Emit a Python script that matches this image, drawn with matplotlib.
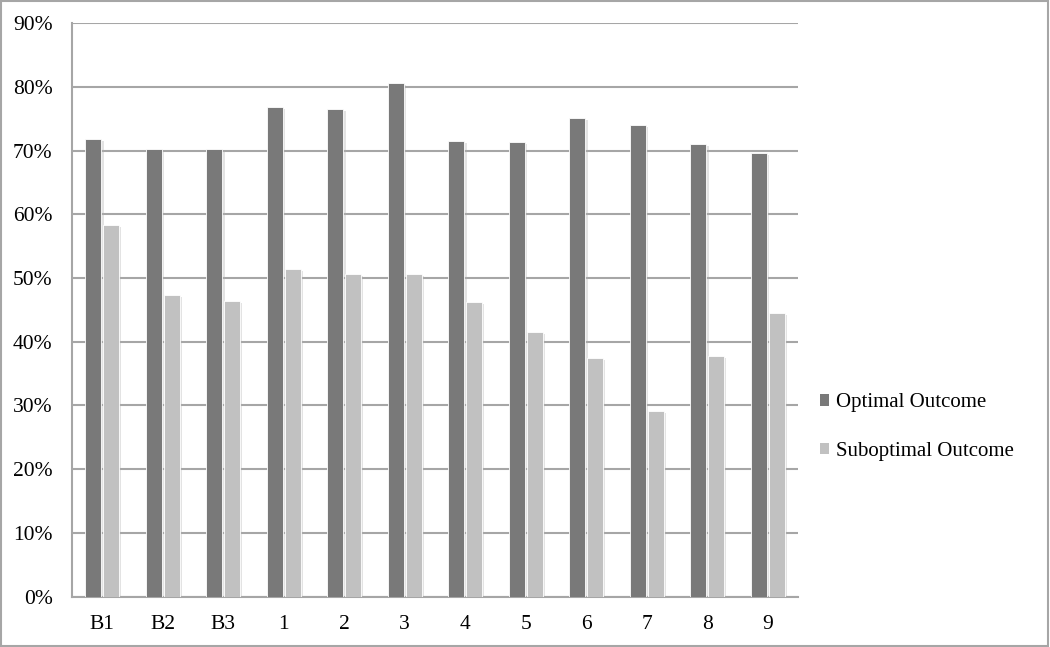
import matplotlib
matplotlib.use("Agg")
import matplotlib.pyplot as plt
import numpy as np
from matplotlib.patches import Rectangle, Patch
import matplotlib.patheffects as pe

categories = ["B1", "B2", "B3", "1", "2", "3", "4", "5", "6", "7", "8", "9"]
optimal = [71.8, 70.2, 70.2, 76.8, 76.5, 80.6, 71.5, 71.3, 75.1, 74.0, 71.1, 69.7]
suboptimal = [58.4, 47.4, 46.4, 51.4, 50.6, 50.6, 46.2, 41.5, 37.4, 29.2, 37.8, 44.5]
yticks = [0, 10, 20, 30, 40, 50, 60, 70, 80, 90]
series_names = ["Optimal Outcome", "Suboptimal Outcome"]

dark = "#797979"
light = "#c1c1c1"
grid_c = "#a6a6a6"
font = "Liberation Serif"

fig = plt.figure(figsize=(10.5, 6.47), dpi=100)
ax = fig.add_axes([72/1050, (647-596.5)/647, (798-72)/1050, (596.5-23.3)/647])

x = np.arange(len(categories))
w = 0.265
shadow = [pe.SimplePatchShadow(offset=(1.5, -1.5), shadow_rgbFace="#b0b0b0", alpha=0.35), pe.Normal()]
b1 = ax.bar(x - 0.145, optimal, w, color=dark, edgecolor="white", linewidth=0.6, zorder=3)
b2 = ax.bar(x + 0.145, suboptimal, w, color=light, edgecolor="white", linewidth=0.6, zorder=3)
for b in list(b1) + list(b2):
    b.set_path_effects(shadow)

ax.set_xlim(-0.5, len(categories) - 0.5)
ax.set_ylim(0, 90)
ax.set_yticks(yticks)
ax.set_yticklabels([f"{v}%" for v in yticks], fontfamily=font, fontsize=15.5)
ax.set_xticks(x)
ax.set_xticklabels(categories, fontfamily=font, fontsize=15.5)
ax.tick_params(axis="both", length=0)
ax.tick_params(axis="y", pad=14)
ax.tick_params(axis="x", pad=13)
ax.yaxis.grid(True, color=grid_c, linewidth=1.5, zorder=0)
ax.set_axisbelow(True)
for s in ["top", "right"]:
    ax.spines[s].set_visible(False)
for s in ["left", "bottom"]:
    ax.spines[s].set_color(grid_c)
    ax.spines[s].set_linewidth(1.5)

handles = [Patch(facecolor=dark, edgecolor="none"), Patch(facecolor=light, edgecolor="none")]
fig.legend(handles, series_names, loc="center left", bbox_to_anchor=(801/1050, 1 - 427/647),
           frameon=False, prop={"family": font, "size": 15},
           handlelength=0.45, handleheight=0.45, handletextpad=0.35, labelspacing=1.4)

fig.patches.append(Rectangle((0.001, 0.002), 0.997, 0.996, transform=fig.transFigure,
                             fill=False, edgecolor=grid_c, linewidth=1.5))

fig.savefig("out.png", dpi=100, facecolor="white")
